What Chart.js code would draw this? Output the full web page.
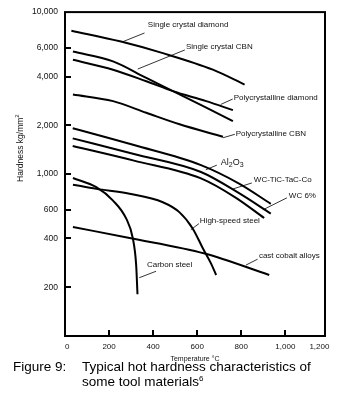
<!DOCTYPE html>
<html>
<head>
<meta charset="utf-8">
<script src="https://cdn.jsdelivr.net/npm/chart.js@4.4.1/dist/chart.umd.min.js"></script>
<style>
  html, body { margin: 0; padding: 0; background: #fff; }
  #wrap { position: relative; width: 343px; height: 406px; }
  #caption { position: absolute; left: 0; top: 359px; width: 343px; font: 13.5px "Liberation Sans", Arial, sans-serif; color: #000; line-height: 15px; }
  #caption .num { position: absolute; left: 13px; top: 0; }
  #caption .txt { position: absolute; left: 82px; top: 0; white-space: nowrap; }
  #caption sup { font-size: 8px; vertical-align: 5px; line-height: 0; }
</style>
</head>
<body>
<div id="wrap">
  <canvas id="hardnessChart"></canvas>
  <div id="caption"><span class="num">Figure 9:</span><span class="txt">Typical hot hardness characteristics of<br>some tool materials<sup>6</sup></span></div>
</div>
<script>
// tick labels
const tempTicks = [0, 200, 400, 600, 800, 1000, 1200];
const hardTicks = [200, 400, 600, 1000, 2000, 4000, 6000, 10000];

// temperature (°C) / hardness (kg/mm2)
const scDiamondT = [29, 254, 444, 671, 815];
const scDiamondH = [7680, 6580, 5580, 4410, 3570];
const scCbnT = [36, 218, 369, 490, 641, 762];
const scCbnH = [5710, 4960, 3920, 3250, 2570, 2120];
const pcDiamondT = [36, 218, 369, 490, 641, 762];
const pcDiamondH = [5080, 4410, 3740, 3250, 2820, 2480];
const pcCbnT = [36, 218, 369, 520, 717];
const pcCbnH = [3100, 2820, 2390, 2030, 1700];
const aluminaT = [35, 313, 617, 792, 934];
const aluminaH = [1920, 1510, 1135, 870, 655];
const wcTicT = [35, 313, 617, 788, 934];
const wcTicH = [1660, 1330, 1030, 765, 570];
const wc6T = [35, 313, 617, 776, 904];
const wc6H = [1490, 1210, 940, 713, 535];
const hssT = [36, 142, 293, 444, 520, 580, 626, 663, 686];
const hssH = [860, 810, 755, 670, 580, 460, 347, 280, 238];
const carbonT = [36, 142, 218, 278, 308, 323, 329];
const carbonH = [945, 830, 686, 530, 400, 274, 181];
const cobaltT = [36, 293, 634, 927];
const cobaltH = [471, 403, 323, 238];

const series = [
  ['Single crystal diamond', scDiamondT, scDiamondH],
  ['Single crystal CBN', scCbnT, scCbnH],
  ['Polycrystalline diamond', pcDiamondT, pcDiamondH],
  ['Polycrystalline CBN', pcCbnT, pcCbnH],
  ['Al2O3', aluminaT, aluminaH],
  ['WC-TiC-TaC-Co', wcTicT, wcTicH],
  ['WC 6%', wc6T, wc6H],
  ['High-speed steel', hssT, hssH],
  ['Carbon steel', carbonT, carbonH],
  ['cast cobalt alloys', cobaltT, cobaltH]
];

// callout labels: text anchor and leader line, all in data units
const callouts = [
  { text: 'Single crystal diamond', at: [376, 8320], from: [361, 7430], to: [263, 6570] },
  { text: 'Single crystal CBN', at: [549, 6120], from: [544, 5840], to: [330, 4450] },
  { text: 'Polycrystalline diamond', at: [766, 2955], from: [761, 2905], to: [707, 2690] },
  { text: 'Polycrystalline CBN', at: [775, 1760], from: [771, 1760], to: [717, 1675] },
  { text: 'Al2O3', at: [707, 1185], from: [689, 1135], to: [639, 1063] },
  { text: 'WC-TiC-TaC-Co', at: [857, 923], from: [848, 881], to: [762, 809] },
  { text: 'WC 6%', at: [1016, 736], from: [1007, 713], to: [898, 601] },
  { text: 'High-speed steel', at: [612, 517], from: [608, 494], to: [571, 453] },
  { text: 'Carbon steel', at: [372, 274], from: [413, 251], to: [337, 229] },
  { text: 'cast cobalt alloys', at: [880, 315], from: [874, 298], to: [821, 274] }
];

const FONT = '"Liberation Sans", Arial, sans-serif';

const figureDecor = {
  id: 'figureDecor',
  afterDraw(chart) {
    const { ctx, chartArea: a, scales: { x, y } } = chart;
    ctx.save();
    ctx.strokeStyle = '#000';
    ctx.lineCap = 'butt';

    // frame
    ctx.lineWidth = 2;
    ctx.strokeRect(a.left, a.top, a.right - a.left, a.bottom - a.top);

    // inward tick marks
    x.ticks.forEach(t => {
      if (t.value <= x.min || t.value >= x.max) return;
      const px = Math.round(x.getPixelForValue(t.value));
      ctx.beginPath(); ctx.moveTo(px, a.bottom); ctx.lineTo(px, a.bottom - 6); ctx.stroke();
    });
    y.ticks.forEach(t => {
      if (t.value <= y.min || t.value >= y.max) return;
      const py = Math.round(y.getPixelForValue(t.value));
      ctx.beginPath(); ctx.moveTo(a.left, py); ctx.lineTo(a.left + 6, py); ctx.stroke();
    });

    // callouts
    ctx.lineWidth = 0.8;
    ctx.fillStyle = '#111';
    ctx.textBaseline = 'middle';
    ctx.textAlign = 'left';
    callouts.forEach(c => {
      ctx.beginPath();
      ctx.moveTo(x.getPixelForValue(c.from[0]), y.getPixelForValue(c.from[1]));
      ctx.lineTo(x.getPixelForValue(c.to[0]), y.getPixelForValue(c.to[1]));
      ctx.stroke();
      let tx = x.getPixelForValue(c.at[0]);
      const ty = y.getPixelForValue(c.at[1]);
      if (c.text === 'Al2O3') {
        // chemical formula with subscripts
        [['Al', 0, 9], ['2', 3, 7], ['O', 0, 9], ['3', 3, 7]].forEach(([s, dy, fs]) => {
          ctx.font = fs + 'px ' + FONT;
          ctx.fillText(s, tx, ty + dy);
          tx += ctx.measureText(s).width;
        });
      } else {
        ctx.font = '8px ' + FONT;
        ctx.fillText(c.text, tx, ty);
      }
    });

    // y axis title
    ctx.save();
    ctx.translate(21, a.top + (a.bottom - a.top) * 0.42);
    ctx.rotate(-Math.PI / 2);
    const main = 'Hardness kg/mm';
    ctx.font = '8.5px ' + FONT;
    const w1 = ctx.measureText(main).width;
    ctx.font = '6px ' + FONT;
    const w2 = ctx.measureText('2').width;
    const sx = -(w1 + w2) / 2;
    ctx.font = '8.5px ' + FONT;
    ctx.fillText(main, sx, 0);
    ctx.font = '6px ' + FONT;
    ctx.fillText('2', sx + w1, -4);
    ctx.restore();

    // x axis title
    ctx.font = '7px ' + FONT;
    ctx.textAlign = 'center';
    ctx.fillText('Temperature \u00B0C', (a.left + a.right) / 2, a.bottom + 23);

    ctx.restore();
  }
};

new Chart(document.getElementById('hardnessChart'), {
  type: 'line',
  data: {
    datasets: series.map(([label, ts, hs]) => ({
      label: label,
      data: ts.map((t, i) => ({ x: t, y: hs[i] })),
      borderColor: '#000',
      borderWidth: 2,
      pointRadius: 0,
      fill: false,
      cubicInterpolationMode: 'monotone'
    }))
  },
  options: {
    responsive: true,
    maintainAspectRatio: false,
    animation: false,
    layout: { padding: { left: 0, top: 12, right: 18, bottom: 40 } },
    plugins: {
      legend: { display: false },
      tooltip: { enabled: false }
    },
    scales: {
      x: {
        type: 'linear',
        min: 0,
        max: 1180,
        afterBuildTicks: scale => { scale.ticks = tempTicks.map(v => ({ value: v })); },
        afterFit: scale => { scale.height = 30; },
        grid: { display: false, drawTicks: false },
        border: { display: false },
        ticks: {
          align: 'inner',
          padding: 6,
          color: '#111',
          font: { family: FONT, size: 8 },
          callback: v => Number(v).toLocaleString('en-US')
        }
      },
      y: {
        type: 'logarithmic',
        min: 100,
        max: 10000,
        afterBuildTicks: scale => { scale.ticks = hardTicks.map(v => ({ value: v })); },
        afterFit: scale => { scale.width = 65; },
        grid: { display: false, drawTicks: false },
        border: { display: false },
        ticks: {
          padding: 7,
          color: '#111',
          font: { family: FONT, size: 8.5 },
          callback: v => Number(v).toLocaleString('en-US')
        }
      }
    }
  },
  plugins: [figureDecor]
});
</script>
</body>
</html>
